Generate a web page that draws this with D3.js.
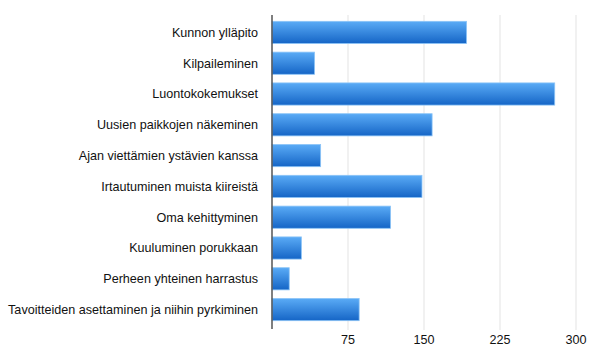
<!DOCTYPE html>
<html>
<head>
<meta charset="utf-8">
<script src="https://cdn.jsdelivr.net/npm/d3@7"></script>
<style>
  body { margin: 0; background: #fff; }
  text { font-family: "Liberation Sans", Arial, sans-serif; }
</style>
</head>
<body>
<div id="chart"></div>
<script>
var categories = ["Kunnon ylläpito", "Kilpaileminen", "Luontokokemukset", "Uusien paikkojen näkeminen",
  "Ajan viettämien ystävien kanssa", "Irtautuminen muista kiireistä", "Oma kehittyminen",
  "Kuuluminen porukkaan", "Perheen yhteinen harrastus", "Tavoitteiden asettaminen ja niihin pyrkiminen"];
var values = [192, 42, 279, 158, 48, 148, 117, 29, 17, 86];
var ticks = [75, 150, 225, 300];

var width = 600, height = 351;
var margin = {top: 17, right: 24, bottom: 26, left: 272};

var svg = d3.select("#chart").append("svg")
  .attr("width", width).attr("height", height);

var defs = svg.append("defs");
var grad = defs.append("linearGradient").attr("id", "barGrad")
  .attr("x1", 0).attr("y1", 0).attr("x2", 0).attr("y2", 1);
grad.append("stop").attr("offset", "0%").attr("stop-color", "#5aabf6");
grad.append("stop").attr("offset", "100%").attr("stop-color", "#1565c6");

var x = d3.scaleLinear().domain([0, 300]).range([margin.left, 576]);
var y = d3.scaleBand().domain(categories)
  .range([margin.top, height - margin.bottom]).paddingInner(0.28).paddingOuter(0.14);

// grid
svg.append("g").selectAll("line").data(ticks).enter().append("line")
  .attr("x1", function(d) { return x(d); }).attr("x2", function(d) { return x(d); })
  .attr("y1", 15).attr("y2", 330)
  .attr("stroke", "#e3e3e3").attr("stroke-width", 1);

// bars
svg.append("g").selectAll("rect").data(values).enter().append("rect")
  .attr("x", x(0))
  .attr("y", function(d, i) { return y(categories[i]); })
  .attr("width", function(d) { return x(d) - x(0); })
  .attr("height", y.bandwidth())
  .attr("fill", "url(#barGrad)")
  .attr("stroke", "#8cc4f7").attr("stroke-width", 0.8);

// category labels
svg.append("g").selectAll("text").data(categories).enter().append("text")
  .attr("x", 258)
  .attr("y", function(d) { return y(d) + y.bandwidth() / 2; })
  .attr("dy", "0.35em")
  .attr("text-anchor", "end")
  .attr("font-size", 12.6)
  .attr("fill", "#111")
  .text(function(d) { return d; });

// axis line
svg.append("line")
  .attr("x1", x(0)).attr("x2", x(0))
  .attr("y1", 15).attr("y2", 329)
  .attr("stroke", "#555").attr("stroke-width", 1.5);

// tick labels
svg.append("g").selectAll("text").data(ticks).enter().append("text")
  .attr("x", function(d) { return x(d); })
  .attr("y", 340)
  .attr("dy", "0.35em")
  .attr("text-anchor", "middle")
  .attr("font-size", 12.6)
  .attr("fill", "#111")
  .text(function(d) { return d; });
</script>
</body>
</html>
